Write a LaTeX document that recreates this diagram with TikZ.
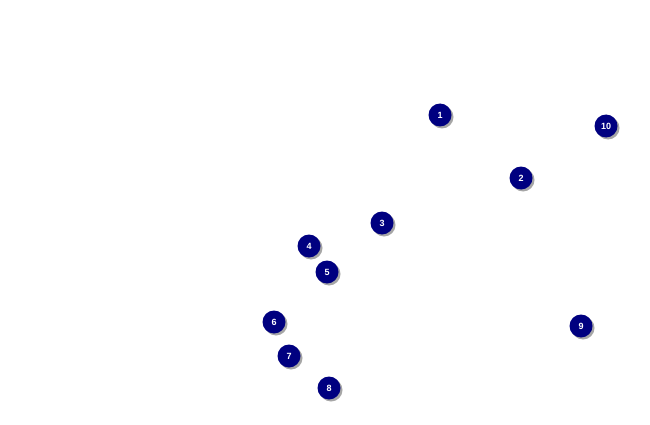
\documentclass[tikz,border=0pt]{standalone}
\usepackage{fontspec}
\setmainfont{Liberation Sans}
\usetikzlibrary{shadows}
\begin{document}
\begin{tikzpicture}[x=1pt,y=-1pt,
  pin/.style={circle,fill={rgb,255:red,0;green,0;blue,128},minimum size=23pt,inner sep=0pt,
    text=white,font=\bfseries\fontsize{9}{10}\selectfont,
    drop shadow={shadow xshift=2pt,shadow yshift=-2pt,fill=gray!70,opacity=1}}]
\useasboundingbox[fill=white] (0,0) rectangle (650,425);
\node[pin] (n1) at (440,115) {1};
\node[pin] (n10) at (606,126) {10};
\node[pin] (n2) at (521,178) {2};
\node[pin] (n3) at (382,223) {3};
\node[pin] (n4) at (309,246) {4};
\node[pin] (n5) at (327,272) {5};
\node[pin] (n6) at (274,322) {6};
\node[pin] (n9) at (581,326) {9};
\node[pin] (n7) at (289,356) {7};
\node[pin] (n8) at (329,388) {8};
\end{tikzpicture}
\end{document}
